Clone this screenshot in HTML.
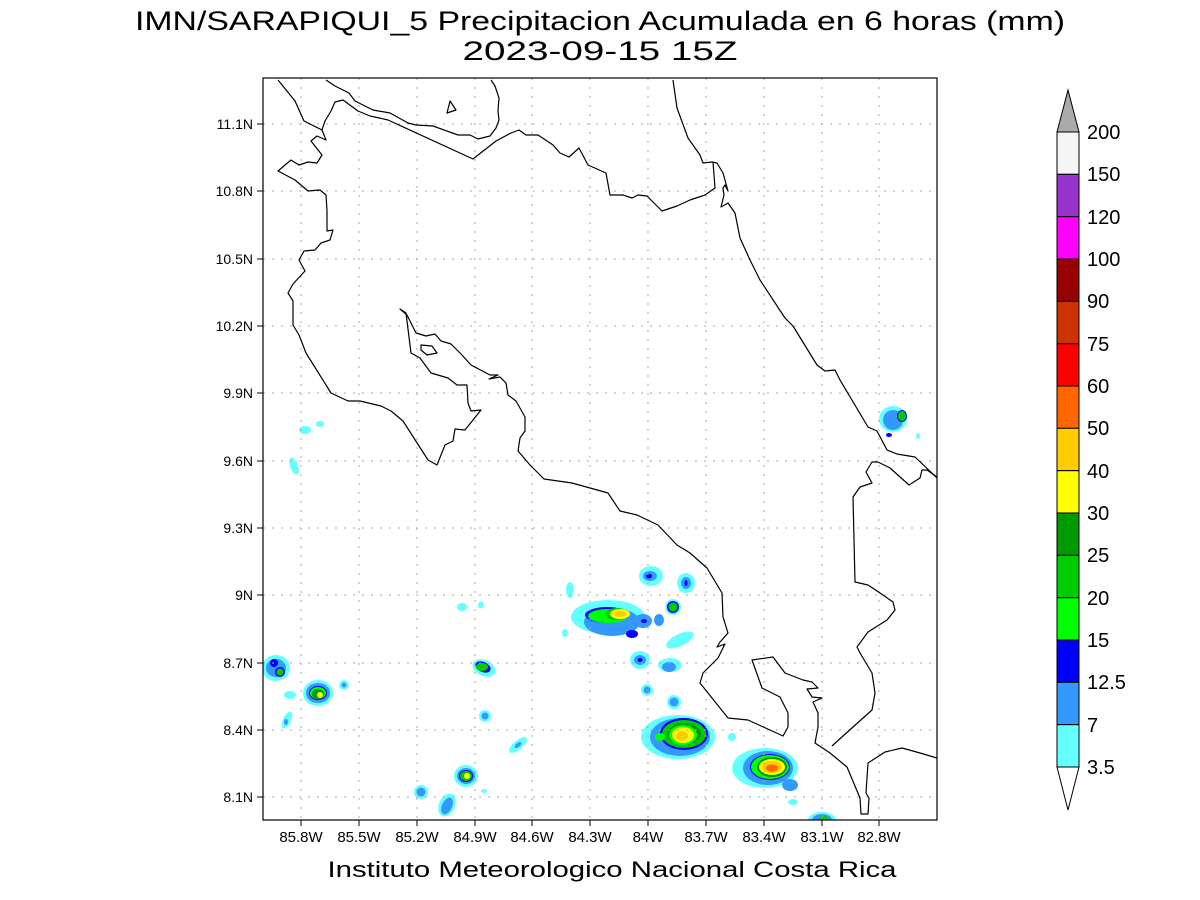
<!DOCTYPE html>
<html><head><meta charset="utf-8"><style>
html,body{margin:0;padding:0;background:#fff;}
svg{display:block;}
text{font-family:"Liberation Sans",sans-serif;fill:#000;}
</style></head><body>
<svg width="1200" height="900" viewBox="0 0 1200 900" xmlns="http://www.w3.org/2000/svg">
<rect width="1200" height="900" fill="#fff"/>
<text x="600" y="30" font-size="27" text-anchor="middle" textLength="930" lengthAdjust="spacingAndGlyphs" fill="#111">IMN/SARAPIQUI_5 Precipitacion Acumulada en 6 horas (mm)</text>
<text x="600" y="60" font-size="27" text-anchor="middle" textLength="275" lengthAdjust="spacingAndGlyphs" fill="#111">2023-09-15 15Z</text>

<defs><clipPath id="c"><rect x="263" y="78" width="674" height="742"/></clipPath></defs>
<g clip-path="url(#c)">
<g>
<ellipse cx="276" cy="668" rx="14" ry="13" fill="#66ffff"/>
<ellipse cx="276" cy="668" rx="10" ry="9" fill="#3399ff"/>
<ellipse cx="274" cy="663" rx="4" ry="4" fill="#0000ff"/>
<ellipse cx="280" cy="672" rx="5" ry="5" fill="#0000ff"/>
<ellipse cx="280" cy="672" rx="3.5" ry="3.5" fill="#00cc00"/>
<ellipse cx="318" cy="693" rx="15" ry="13" fill="#66ffff"/>
<ellipse cx="318" cy="693" rx="12" ry="10" fill="#3399ff"/>
<ellipse cx="318" cy="693" rx="9" ry="7" fill="#0000ff"/>
<ellipse cx="318" cy="693" rx="8" ry="6" fill="#00ff00"/>
<ellipse cx="318" cy="694" rx="6" ry="5" fill="#009900"/>
<ellipse cx="320" cy="695" rx="3" ry="3" fill="#ffff00"/>
<ellipse cx="290" cy="695" rx="6" ry="4" fill="#66ffff"/>
<ellipse cx="344" cy="685" rx="5" ry="5" fill="#66ffff"/>
<ellipse cx="344" cy="685" rx="2.5" ry="2.5" fill="#3399ff"/>
<ellipse cx="287" cy="720" rx="4" ry="9" fill="#66ffff" transform="rotate(25 287 720)"/>
<ellipse cx="286" cy="722" rx="2" ry="3" fill="#3399ff"/>
<ellipse cx="462" cy="607" rx="5" ry="4" fill="#66ffff"/>
<ellipse cx="481" cy="605" rx="3" ry="3.5" fill="#66ffff"/>
<ellipse cx="484" cy="668" rx="12" ry="8" fill="#66ffff" transform="rotate(25 484 668)"/>
<ellipse cx="483" cy="667" rx="8" ry="5" fill="#0000ff" transform="rotate(25 483 667)"/>
<ellipse cx="482" cy="667" rx="6" ry="4" fill="#00cc00"/>
<ellipse cx="485" cy="716" rx="6" ry="6" fill="#66ffff"/>
<ellipse cx="485" cy="716" rx="3.5" ry="3.5" fill="#3399ff"/>
<ellipse cx="518" cy="745" rx="11" ry="4.5" fill="#66ffff" transform="rotate(-40 518 745)"/>
<ellipse cx="518" cy="745" rx="4" ry="2" fill="#3399ff" transform="rotate(-40 518 745)"/>
<ellipse cx="421" cy="792" rx="7" ry="7" fill="#66ffff"/>
<ellipse cx="421" cy="792" rx="4.5" ry="4.5" fill="#3399ff"/>
<ellipse cx="447" cy="805" rx="8" ry="12" fill="#66ffff" transform="rotate(25 447 805)"/>
<ellipse cx="447" cy="806" rx="5" ry="9" fill="#3399ff" transform="rotate(25 447 806)"/>
<ellipse cx="466" cy="776" rx="12" ry="11" fill="#66ffff"/>
<ellipse cx="466" cy="776" rx="9" ry="8" fill="#3399ff"/>
<ellipse cx="466" cy="776" rx="7" ry="6" fill="#0000ff"/>
<ellipse cx="466" cy="776" rx="6" ry="5" fill="#00cc00"/>
<ellipse cx="467" cy="776" rx="3" ry="3" fill="#ffff00"/>
<ellipse cx="484" cy="791" rx="3" ry="2" fill="#66ffff"/>
<ellipse cx="305" cy="430" rx="6" ry="4" fill="#66ffff"/>
<ellipse cx="320" cy="424" rx="4" ry="3" fill="#66ffff"/>
<ellipse cx="294" cy="466" rx="4" ry="9" fill="#66ffff" transform="rotate(-20 294 466)"/>
<ellipse cx="570" cy="590" rx="4" ry="8" fill="#66ffff"/>
<ellipse cx="565" cy="633" rx="3" ry="4" fill="#66ffff"/>
<ellipse cx="608" cy="617" rx="37" ry="17" fill="#66ffff"/>
<ellipse cx="612" cy="622" rx="28" ry="14" fill="#3399ff"/>
<ellipse cx="607" cy="615" rx="22" ry="8" fill="#0000ff"/>
<ellipse cx="608" cy="616" rx="20" ry="7" fill="#00ff00"/>
<ellipse cx="617" cy="614" rx="12" ry="6" fill="#00cc00"/>
<ellipse cx="620" cy="614" rx="10" ry="5" fill="#ffff00"/>
<ellipse cx="620" cy="614" rx="6" ry="3" fill="#ffcc00"/>
<ellipse cx="643" cy="621" rx="9" ry="7" fill="#3399ff"/>
<ellipse cx="644" cy="621" rx="3" ry="2" fill="#0000ff"/>
<ellipse cx="632" cy="634" rx="6" ry="4" fill="#0000ff"/>
<ellipse cx="651" cy="576" rx="12" ry="10" fill="#66ffff"/>
<ellipse cx="650" cy="576" rx="7" ry="5" fill="#3399ff"/>
<ellipse cx="649" cy="576" rx="3" ry="2.5" fill="#0000ff"/>
<ellipse cx="686" cy="583" rx="9" ry="10" fill="#66ffff"/>
<ellipse cx="686" cy="583" rx="5" ry="6" fill="#3399ff"/>
<ellipse cx="686" cy="583" rx="1.5" ry="3" fill="#0000ff"/>
<ellipse cx="673" cy="607" rx="8" ry="8" fill="#66ffff"/>
<ellipse cx="673" cy="607" rx="6" ry="6" fill="#0000ff"/>
<ellipse cx="673" cy="607" rx="4.5" ry="4.5" fill="#00cc00"/>
<ellipse cx="659" cy="620" rx="5" ry="6" fill="#3399ff"/>
<ellipse cx="680" cy="640" rx="15" ry="6" fill="#66ffff" transform="rotate(-25 680 640)"/>
<ellipse cx="640" cy="660" rx="10" ry="9" fill="#66ffff"/>
<ellipse cx="640" cy="660" rx="6" ry="5" fill="#3399ff"/>
<ellipse cx="640" cy="660" rx="2.5" ry="2" fill="#0000ff"/>
<ellipse cx="670" cy="665" rx="12" ry="7" fill="#66ffff"/>
<ellipse cx="669" cy="667" rx="7" ry="5" fill="#3399ff"/>
<ellipse cx="647" cy="690" rx="6" ry="6" fill="#66ffff"/>
<ellipse cx="647" cy="690" rx="3.5" ry="3.5" fill="#3399ff"/>
<ellipse cx="674" cy="702" rx="7" ry="7" fill="#66ffff"/>
<ellipse cx="674" cy="702" rx="4.5" ry="4.5" fill="#3399ff"/>
<ellipse cx="678" cy="737" rx="37" ry="22" fill="#66ffff"/>
<ellipse cx="680" cy="737" rx="30" ry="19" fill="#3399ff"/>
<ellipse cx="684" cy="734" rx="24" ry="16" fill="#0000ff"/>
<ellipse cx="684" cy="734" rx="22" ry="14" fill="#00cc00"/>
<ellipse cx="684" cy="734" rx="17" ry="11" fill="#009900"/>
<ellipse cx="683" cy="735" rx="14" ry="10" fill="#00ff00"/>
<ellipse cx="683" cy="735" rx="11" ry="8" fill="#ffff00"/>
<ellipse cx="682" cy="736" rx="6" ry="5" fill="#ffcc00"/>
<ellipse cx="660" cy="737" rx="5" ry="4" fill="#00ff00"/>
<ellipse cx="732" cy="737" rx="4" ry="4" fill="#66ffff"/>
<ellipse cx="765" cy="768" rx="33" ry="20" fill="#66ffff"/>
<ellipse cx="768" cy="768" rx="25" ry="17" fill="#3399ff"/>
<ellipse cx="770" cy="767" rx="20" ry="13" fill="#0000ff"/>
<ellipse cx="770" cy="767" rx="19" ry="12" fill="#00ff00"/>
<ellipse cx="772" cy="767" rx="15" ry="10" fill="#009900"/>
<ellipse cx="772" cy="767" rx="13" ry="8" fill="#ffff00"/>
<ellipse cx="772" cy="767" rx="10" ry="6" fill="#ffcc00"/>
<ellipse cx="772" cy="768" rx="6" ry="3.5" fill="#ff6600"/>
<ellipse cx="790" cy="785" rx="8" ry="6" fill="#3399ff"/>
<ellipse cx="793" cy="802" rx="5" ry="3" fill="#66ffff"/>
<ellipse cx="822" cy="820" rx="14" ry="8" fill="#66ffff"/>
<ellipse cx="822" cy="820" rx="10" ry="6" fill="#3399ff"/>
<ellipse cx="824" cy="820" rx="5" ry="4" fill="#00cc00"/>
<ellipse cx="893" cy="419" rx="14" ry="13" fill="#66ffff"/>
<ellipse cx="893" cy="420" rx="10" ry="10" fill="#3399ff"/>
<ellipse cx="902" cy="416" rx="5" ry="6" fill="#0000ff"/>
<ellipse cx="902" cy="416" rx="4" ry="5" fill="#00cc00"/>
<ellipse cx="889" cy="435" rx="3" ry="2" fill="#0000ff"/>
<ellipse cx="918" cy="436" rx="2" ry="3" fill="#66ffff"/>
</g>

<g stroke="#aaa" stroke-width="1" stroke-dasharray="2,7" fill="none">
<path d="M301 78V820M359 78V820M417 78V820M475 78V820M532 78V820M590 78V820M648 78V820M706 78V820M764 78V820M822 78V820M879 78V820"/>
<path d="M263 124H937M263 191H937M263 259H937M263 326H937M263 393H937M263 461H937M263 528H937M263 595H937M263 663H937M263 730H937M263 797H937"/>
</g>

<g stroke="#000" stroke-width="1.2" fill="none" stroke-linejoin="round">
<polyline points="278,80 295,101 304,121 322,130 326,140 317,136 311,141 322,155 317,163 308,162 299,165 291,160 278,171 295,180 308,191 320,190 326,195 327,211 327,231 333,230 330,240 321,243 315,250 304,251 299,260 305,271 293,284 288,293 293,301 293,325 299,335 306,353 331,393 348,401 360,401 381,406 391,411 403,421 428,460 437,465 445,445 453,441 455,429 465,430 481,410 471,411 468,403 467,385 457,385 448,378 431,373 420,358 411,353 406,313 400,309 407,315 416,333 426,336 435,334 441,341 451,344 462,355 471,365 490,375 498,375 489,379 500,377 506,383 508,395 516,401 525,417 525,431 520,438 518,451 530,465 544,479 572,483 608,493 620,511 637,515 658,525 677,545 690,553 707,568 722,593 723,617 728,633 720,642 717,647 725,644 718,658 703,673 700,683 712,698 728,718 748,720 783,736 788,727 788,713 780,697 762,688 752,660 773,657 785,673 803,680 812,682 818,688 807,689 812,697 822,698 813,702 818,713 818,727 815,743 830,753 847,767 860,798 861,814 868,814 869,798 866,793 868,763 885,752 902,748 920,753 937,758"/>
<polyline points="832,746 853,727 872,710 875,693 872,673 860,653 857,647 868,632 887,620 895,610 893,602 880,593 868,585 855,582 853,497 860,487 872,483 866,472 872,462 878,462 890,468 909,485 920,478 922,470 927,470 937,477"/>
<polyline points="673,80 677,108 688,138 700,155 703,163 712,162 717,163 723,173 728,191 725,185 723,188 724,195 721,207 728,203 735,213 740,238 750,260 760,280 785,318 793,326 817,365 825,371 835,370 840,380 868,427 877,431 887,450 897,454 915,457 937,478"/>
<polyline points="713,162 715,188 705,195 690,200 677,206 662,211 647,196 638,195 632,198 623,195 610,195 606,173 588,165 579,148 569,157 560,153 553,145 538,135 526,135 519,130 511,133 496,141 473,159 388,120 370,116 358,111 343,100 335,102 331,111 325,121 322,130"/>
<polyline points="326,80 335,86 349,93 355,101 373,110 390,113 408,123 416,125 433,126 458,135 470,135 478,139 490,136 496,128 499,120 498,111 499,98 495,86 491,80"/>
<polygon points="447,113 450,101 456,110"/>
<polygon points="421,345 432,346 437,353 427,355 421,350"/>
</g>
</g>
<rect x="263" y="78" width="674" height="742" fill="none" stroke="#000" stroke-width="1.2"/>

<g stroke="#000" stroke-width="1">
<path d="M301 820v6M359 820v6M417 820v6M475 820v6M532 820v6M590 820v6M648 820v6M706 820v6M764 820v6M822 820v6M879 820v6"/>
<path d="M263 124h-6M263 191h-6M263 259h-6M263 326h-6M263 393h-6M263 461h-6M263 528h-6M263 595h-6M263 663h-6M263 730h-6M263 797h-6"/>
</g>
<g font-size="15" text-anchor="middle">
<text x="301" y="842">85.8W</text><text x="359" y="842">85.5W</text><text x="417" y="842">85.2W</text><text x="475" y="842">84.9W</text><text x="532" y="842">84.6W</text><text x="590" y="842">84.3W</text><text x="648" y="842">84W</text><text x="706" y="842">83.7W</text><text x="764" y="842">83.4W</text><text x="822" y="842">83.1W</text><text x="879" y="842">82.8W</text>
</g>
<g font-size="14" text-anchor="end">
<text x="253" y="129">11.1N</text><text x="253" y="196">10.8N</text><text x="253" y="264">10.5N</text><text x="253" y="331">10.2N</text><text x="253" y="398">9.9N</text><text x="253" y="466">9.6N</text><text x="253" y="533">9.3N</text><text x="253" y="600">9N</text><text x="253" y="668">8.7N</text><text x="253" y="735">8.4N</text><text x="253" y="802">8.1N</text>
</g>
<text x="612" y="877" font-size="22" text-anchor="middle" textLength="569" lengthAdjust="spacingAndGlyphs" fill="#333">Instituto Meteorologico Nacional Costa Rica</text>

<g stroke="#000" stroke-width="1">
<polygon points="1057,132 1079,132 1068,90" fill="#aaaaaa"/>
<rect x="1057" y="132" width="22" height="42.33" fill="#f5f5f5"/>
<rect x="1057" y="174.3" width="22" height="42.33" fill="#9933cc"/>
<rect x="1057" y="216.7" width="22" height="42.33" fill="#ff00ff"/>
<rect x="1057" y="259" width="22" height="42.33" fill="#990000"/>
<rect x="1057" y="301.3" width="22" height="42.33" fill="#cc3300"/>
<rect x="1057" y="343.7" width="22" height="42.33" fill="#ff0000"/>
<rect x="1057" y="386" width="22" height="42.33" fill="#ff6600"/>
<rect x="1057" y="428.3" width="22" height="42.33" fill="#ffcc00"/>
<rect x="1057" y="470.7" width="22" height="42.33" fill="#ffff00"/>
<rect x="1057" y="513" width="22" height="42.33" fill="#009900"/>
<rect x="1057" y="555.3" width="22" height="42.33" fill="#00cc00"/>
<rect x="1057" y="597.7" width="22" height="42.33" fill="#00ff00"/>
<rect x="1057" y="640" width="22" height="42.33" fill="#0000ff"/>
<rect x="1057" y="682.3" width="22" height="42.33" fill="#3399ff"/>
<rect x="1057" y="724.7" width="22" height="42.33" fill="#66ffff"/>
<polygon points="1057,767 1079,767 1068,810" fill="#fff"/>
</g>
<g font-size="20">
<text x="1087" y="139">200</text><text x="1087" y="181">150</text><text x="1087" y="224">120</text><text x="1087" y="266">100</text><text x="1087" y="308">90</text><text x="1087" y="351">75</text><text x="1087" y="393">60</text><text x="1087" y="435">50</text><text x="1087" y="478">40</text><text x="1087" y="520">30</text><text x="1087" y="562">25</text><text x="1087" y="605">20</text><text x="1087" y="647">15</text><text x="1087" y="689">12.5</text><text x="1087" y="732">7</text><text x="1087" y="774">3.5</text>
</g>
</svg>
</body></html>
